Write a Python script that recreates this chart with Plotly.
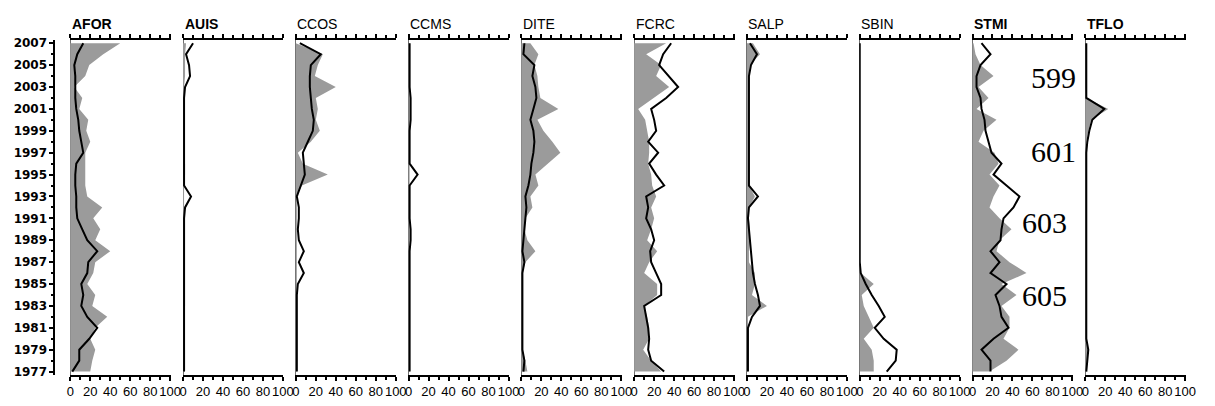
import plotly.graph_objects as go

W, H = 1215, 406

# years listed from top (2007) to bottom (1977)
years = list(range(2007, 1976, -1))

panel_names = ["AFOR", "AUIS", "CCOS", "CCMS", "DITE", "FCRC", "SALP", "SBIN", "STMI", "TFLO"]
bold_names = ["AFOR", "AUIS", "STMI", "TFLO"]

afor_grey = [50, 33, 19, 15, 4, 12, 9, 18, 16, 20, 15, 15, 15, 15, 17, 32, 23, 30, 25, 40, 25, 23, 17, 25, 22, 37, 25, 20, 25, 22, 20]
afor_black = [13, 7, 4, 5, 5, 5, 6, 8, 9, 11, 13, 6, 5, 5, 6, 6, 7, 12, 17, 27, 18, 17, 11, 13, 11, 17, 27, 19, 9, 9, 2]

auis_grey = [3, 2, 2, 2, 1, 1, 1, 1, 1, 1, 1, 2, 2, 1, 1, 1, 2, 2, 2, 2, 2, 2, 2, 2, 2, 1, 1, 1, 2, 2, 2]
auis_black = [10, 3, 6, 7, 2, 1, 1, 1, 1, 1, 1, 1, 1, 1, 8, 2, 1, 1, 1, 1, 1, 1, 1, 1, 1, 1, 1, 1, 1, 1, 1]

ccos_grey = [0, 27, 22, 19, 40, 20, 22, 20, 24, 15, 2, 7, 32, 6, 1, 1, 1, 1, 1, 1, 1, 1, 1, 1, 1, 1, 1, 1, 1, 1, 1]
ccos_black = [4, 25, 15, 14, 14, 15, 16, 18, 17, 12, 7, 8, 9, 5, 1, 3, 3, 2, 3, 8, 3, 8, 2, 1, 1, 1, 1, 1, 1, 1, 1]

ccms_grey = [1] * 31
ccms_black = [1, 1, 1, 1, 1, 2, 2, 2, 1, 1, 1, 1, 9, 1, 1, 1, 1, 2, 2, 1, 1, 1, 1, 1, 1, 1, 1, 1, 1, 1, 1]

dite_grey = [9, 17, 13, 16, 17, 19, 37, 16, 22, 31, 39, 27, 14, 17, 9, 11, 4, 3, 6, 14, 4, 1, 1, 1, 1, 1, 1, 1, 1, 4, 6]
dite_black = [3, 2, 13, 11, 14, 15, 12, 9, 12, 13, 12, 10, 9, 7, 4, 5, 4, 3, 2, 1, 3, 1, 1, 1, 1, 1, 1, 1, 1, 3, 2]

fcrc_grey = [32, 12, 27, 22, 35, 20, 4, 11, 13, 15, 15, 14, 17, 18, 22, 17, 20, 17, 13, 23, 15, 10, 23, 23, 10, 13, 15, 15, 9, 17, 27]
fcrc_black = [37, 29, 25, 35, 44, 32, 17, 20, 22, 14, 24, 15, 22, 30, 12, 14, 12, 17, 20, 16, 17, 22, 27, 27, 10, 12, 14, 15, 14, 17, 30]

salp_grey = [6, 13, 3, 2, 2, 2, 2, 2, 2, 2, 2, 2, 2, 2, 8, 2, 2, 3, 3, 2, 2, 8, 8, 5, 20, 1, 1, 1, 1, 1, 1]
salp_black = [3, 10, 4, 2, 2, 2, 2, 2, 2, 2, 2, 2, 2, 2, 11, 2, 1, 2, 3, 4, 5, 6, 8, 11, 13, 5, 1, 1, 1, 1, 1]

sbin_grey = [0] * 21 + [1, 14, 2, 4, 9, 14, 4, 12, 14, 14]
sbin_black = [0] * 21 + [1, 6, 12, 19, 25, 15, 24, 37, 36, 27]

stmi_grey = [1, 3, 8, 21, 6, 16, 4, 24, 11, 6, 22, 26, 17, 27, 21, 17, 27, 39, 27, 24, 37, 54, 29, 44, 29, 37, 37, 31, 46, 34, 17]
stmi_black = [9, 18, 8, 4, 4, 8, 9, 12, 13, 16, 19, 29, 21, 34, 47, 41, 31, 29, 28, 18, 27, 18, 34, 23, 27, 29, 36, 21, 9, 18, 18]

tflo_grey = [0, 0, 0, 0, 0, 1, 23, 6, 3, 1, 1, 1, 1, 1, 1, 1, 1, 1, 1, 1, 1, 1, 1, 1, 1, 1, 1, 1, 3, 2, 1]
tflo_black = [1, 1, 1, 1, 1, 1, 19, 7, 4, 2, 1, 1, 1, 1, 1, 1, 1, 1, 1, 1, 1, 1, 1, 1, 1, 1, 1, 1, 3, 2, 1]

grey_series = [afor_grey, auis_grey, ccos_grey, ccms_grey, dite_grey, fcrc_grey, salp_grey, sbin_grey, stmi_grey, tflo_grey]
black_series = [afor_black, auis_black, ccos_black, ccms_black, dite_black, fcrc_black, salp_black, sbin_black, stmi_black, tflo_black]

x_ticks = [0, 20, 40, 60, 80, 100]
y_tickvals = list(range(1977, 2008, 2))
y_ticktext = [str(v) for v in y_tickvals]

site_labels = ["599", "601", "603", "605"]
site_label_px = [(1037, 75), (1037, 150), (1028, 223), (1028, 297)]

fig = go.Figure()
layout = dict(
    width=W, height=H,
    margin=dict(l=0, r=0, t=0, b=0),
    paper_bgcolor="white", plot_bgcolor="white",
    showlegend=False,
    annotations=[],
)

y_dom = [1 - 378 / H, 1 - 37 / H]
y_rng = [1976.73, 2007.27]

for i, name in enumerate(panel_names):
    k = "" if i == 0 else str(i + 1)
    xa, ya = "x" + k, "y" + k
    fig.add_trace(go.Scatter(
        x=grey_series[i], y=years, xaxis=xa, yaxis=ya, mode="lines",
        fill="tozerox", fillcolor="#9b9b9b", line=dict(width=0, color="#9b9b9b"),
        hoverinfo="skip"))
    fig.add_trace(go.Scatter(
        x=black_series[i], y=years, xaxis=xa, yaxis=ya, mode="lines",
        line=dict(width=2, color="black"), hoverinfo="skip"))

    x0 = 67.5 + 114 * i
    layout["xaxis" + k] = dict(
        domain=[x0 / W, (x0 + 102) / W], range=[-0.5, 100.5], anchor=ya,
        showline=True, linewidth=2, linecolor="black", mirror="ticks",
        ticks="outside", ticklen=4, tickwidth=2, tickcolor="black",
        tickvals=x_ticks, ticktext=[str(v) for v in x_ticks], tickangle=0,
        minor=dict(ticks="outside", dtick=10, tick0=0, ticklen=3, tickwidth=2, tickcolor="black"),
        tickfont=dict(family="Liberation Sans", size=13, color="black"),
        showgrid=False, zeroline=True, zerolinecolor="#707070", zerolinewidth=1,
        fixedrange=True,
    )
    if i == 0:
        layout["yaxis"] = dict(
            domain=y_dom, range=y_rng, anchor="free", position=52 / W,
            showline=True, linewidth=2, linecolor="black",
            ticks="outside", ticklen=4, tickwidth=2, tickcolor="black",
            tickvals=y_tickvals, ticktext=y_ticktext,
            minor=dict(ticks="outside", dtick=1, tick0=1977, ticklen=2, tickwidth=2, tickcolor="black"),
            tickfont=dict(family="DejaVu Sans", size=12, color="black", weight="bold"),
            showgrid=False, zeroline=False, fixedrange=True,
        )
    else:
        layout["yaxis" + k] = dict(
            domain=y_dom, range=y_rng, anchor=xa, matches="y",
            showline=False, ticks="", showticklabels=False,
            showgrid=False, zeroline=False, fixedrange=True,
        )
    layout["annotations"].append(dict(
        text=name, xref=xa + " domain", x=0, xanchor="left",
        yref="paper", y=1 - 20 / H, yanchor="middle", showarrow=False,
        font=dict(family="Liberation Sans", size=14, color="black",
                  weight="bold" if name in bold_names else "normal"),
    ))

for txt, (px, py) in zip(site_labels, site_label_px):
    layout["annotations"].append(dict(
        text=txt, xref="paper", x=px / W, xanchor="left",
        yref="paper", y=1 - py / H, yanchor="middle", showarrow=False,
        font=dict(family="Liberation Serif", size=30, color="black"),
    ))

fig.update_layout(**layout)
fig.write_html(
    "out.html",
    config={"displayModeBar": False, "staticPlot": True},
    post_script="document.body.style.margin='0';document.body.style.overflow='hidden';",
)
